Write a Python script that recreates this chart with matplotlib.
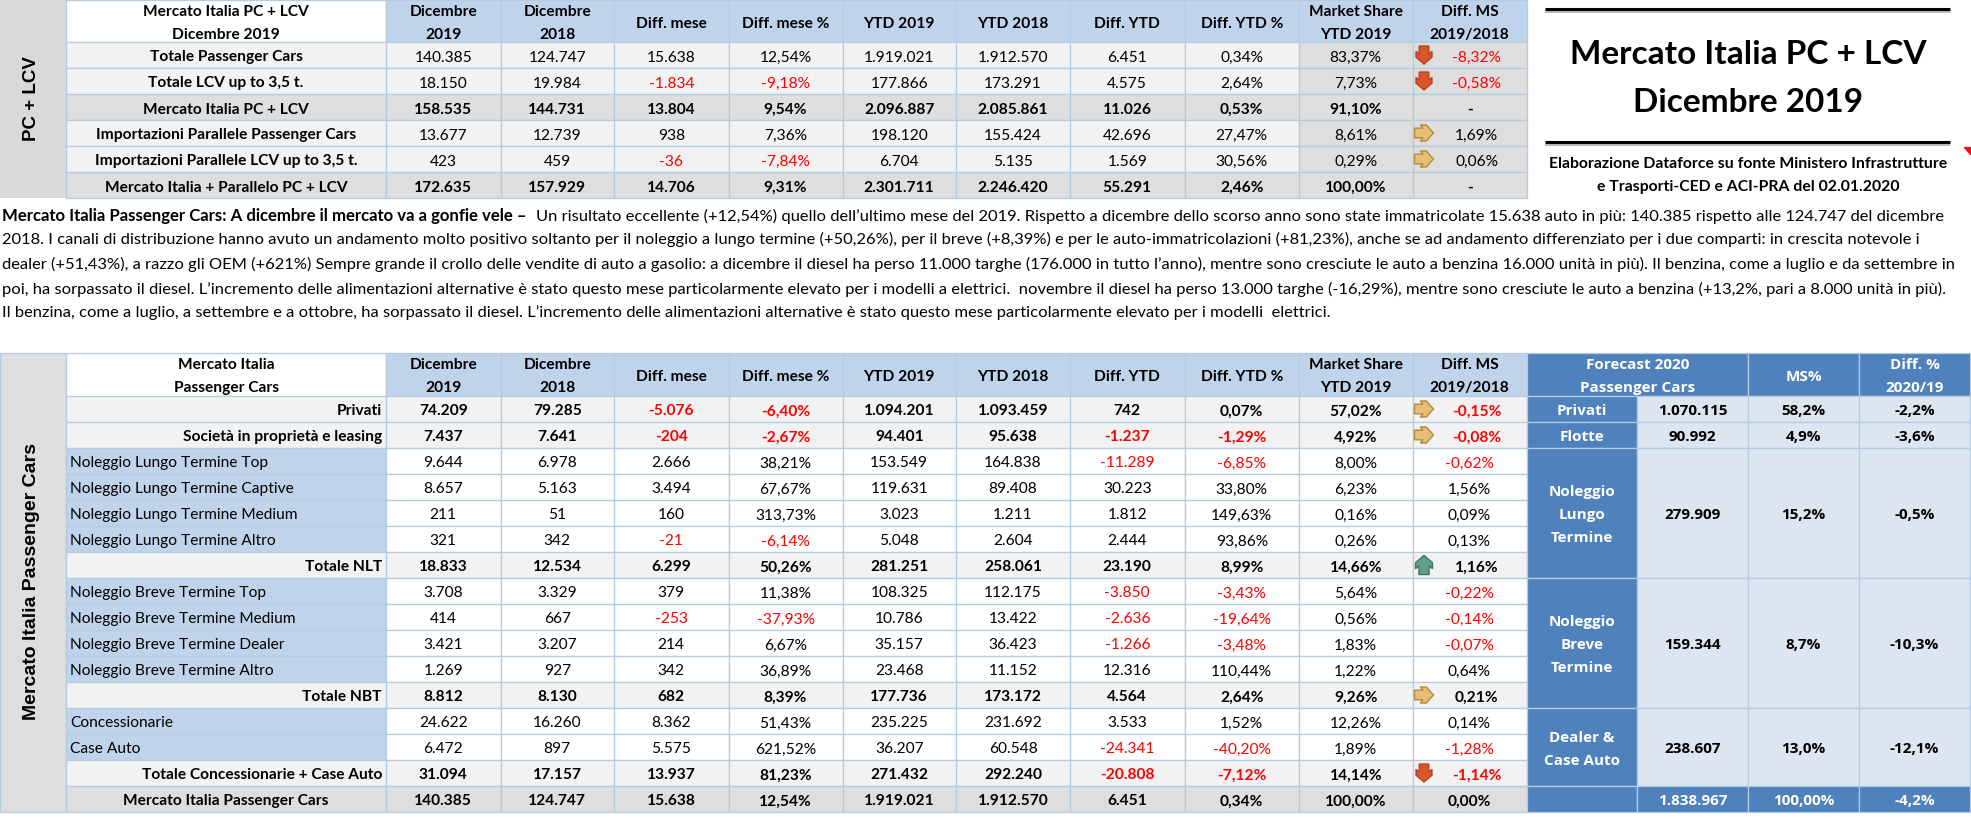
import matplotlib
matplotlib.use("Agg")
import matplotlib.pyplot as plt
from matplotlib.patches import Rectangle

plt.rcParams['font.family'] = ['Lato', 'DejaVu Sans']

# ---- top table data
topLabels = ["Totale Passenger Cars", "Totale LCV up to 3,5 t.", "Mercato Italia PC + LCV",
             "Importazioni Parallele Passenger Cars", "Importazioni Parallele LCV up to 3,5 t.",
             "Mercato Italia + Parallelo PC + LCV"]
topDic19 = ["140.385", "18.150", "158.535", "13.677", "423", "172.635"]
topDic18 = ["124.747", "19.984", "144.731", "12.739", "459", "157.929"]
topDiff = ["15.638", "-1.834", "13.804", "938", "-36", "14.706"]
topDiffPct = ["12,54%", "-9,18%", "9,54%", "7,36%", "-7,84%", "9,31%"]
topYtd19 = ["1.919.021", "177.866", "2.096.887", "198.120", "6.704", "2.301.711"]
topYtd18 = ["1.912.570", "173.291", "2.085.861", "155.424", "5.135", "2.246.420"]
topDiffYtd = ["6.451", "4.575", "11.026", "42.696", "1.569", "55.291"]
topDiffYtdPct = ["0,34%", "2,64%", "0,53%", "27,47%", "30,56%", "2,46%"]
topMs = ["83,37%", "7,73%", "91,10%", "8,61%", "0,29%", "100,00%"]
topDiffMs = ["-8,32%", "-0,58%", "-", "1,69%", "0,06%", "-"]
topArrows = ["down", "down", "", "right", "right", ""]
topBold = [2, 5]

# ---- bottom table data
botLabels = ["Privati", "Società in proprietà e leasing",
             "Noleggio Lungo Termine Top", "Noleggio Lungo Termine Captive",
             "Noleggio Lungo Termine Medium", "Noleggio Lungo Termine Altro", "Totale NLT",
             "Noleggio Breve Termine Top", "Noleggio Breve Termine Medium",
             "Noleggio Breve Termine Dealer", "Noleggio Breve Termine Altro", "Totale NBT",
             "Concessionarie", "Case Auto", "Totale Concessionarie + Case Auto",
             "Mercato Italia Passenger Cars"]
botDic19 = ["74.209", "7.437", "9.644", "8.657", "211", "321", "18.833", "3.708", "414",
            "3.421", "1.269", "8.812", "24.622", "6.472", "31.094", "140.385"]
botDic18 = ["79.285", "7.641", "6.978", "5.163", "51", "342", "12.534", "3.329", "667",
            "3.207", "927", "8.130", "16.260", "897", "17.157", "124.747"]
botDiff = ["-5.076", "-204", "2.666", "3.494", "160", "-21", "6.299", "379", "-253",
           "214", "342", "682", "8.362", "5.575", "13.937", "15.638"]
botDiffPct = ["-6,40%", "-2,67%", "38,21%", "67,67%", "313,73%", "-6,14%", "50,26%", "11,38%",
              "-37,93%", "6,67%", "36,89%", "8,39%", "51,43%", "621,52%", "81,23%", "12,54%"]
botYtd19 = ["1.094.201", "94.401", "153.549", "119.631", "3.023", "5.048", "281.251", "108.325",
            "10.786", "35.157", "23.468", "177.736", "235.225", "36.207", "271.432", "1.919.021"]
botYtd18 = ["1.093.459", "95.638", "164.838", "89.408", "1.211", "2.604", "258.061", "112.175",
            "13.422", "36.423", "11.152", "173.172", "231.692", "60.548", "292.240", "1.912.570"]
botDiffYtd = ["742", "-1.237", "-11.289", "30.223", "1.812", "2.444", "23.190", "-3.850",
              "-2.636", "-1.266", "12.316", "4.564", "3.533", "-24.341", "-20.808", "6.451"]
botDiffYtdPct = ["0,07%", "-1,29%", "-6,85%", "33,80%", "149,63%", "93,86%", "8,99%", "-3,43%",
                 "-19,64%", "-3,48%", "110,44%", "2,64%", "1,52%", "-40,20%", "-7,12%", "0,34%"]
botMs = ["57,02%", "4,92%", "8,00%", "6,23%", "0,16%", "0,26%", "14,66%", "5,64%", "0,56%",
         "1,83%", "1,22%", "9,26%", "12,26%", "1,89%", "14,14%", "100,00%"]
botDiffMs = ["-0,15%", "-0,08%", "-0,62%", "1,56%", "0,09%", "0,13%", "1,16%", "-0,22%", "-0,14%",
             "-0,07%", "0,64%", "0,21%", "0,14%", "-1,28%", "-1,14%", "0,00%"]
botArrows = ["right", "right", "", "", "", "", "up", "", "", "", "", "right", "", "", "down", ""]
botBold = [0, 1, 6, 11, 14, 15]

# ---- forecast table data
fcLabels = ["Privati", "Flotte", "Noleggio\nLungo\nTermine", "Noleggio\nBreve\nTermine", "Dealer &\nCase Auto", ""]
fcValues = ["1.070.115", "90.992", "279.909", "159.344", "238.607", "1.838.967"]
fcMs = ["58,2%", "4,9%", "15,2%", "8,7%", "13,0%", "100,00%"]
fcDiff = ["-2,2%", "-3,6%", "-0,5%", "-10,3%", "-12,1%", "-4,2%"]
fcSpans = [1, 1, 5, 5, 3, 1]

colHeaders = ["Dicembre\n2019", "Dicembre\n2018", "Diff. mese", "Diff. mese %", "YTD 2019", "YTD 2018",
              "Diff. YTD", "Diff. YTD %", "Market Share\nYTD 2019", "Diff. MS\n2019/2018"]

paragraphBold = "Mercato Italia Passenger Cars: A dicembre il mercato va a gonfie vele – "
paragraphLines = [
    "Un risultato eccellente (+12,54%) quello dell’ultimo mese del 2019. Rispetto a dicembre dello scorso anno sono state immatricolate 15.638 auto in più: 140.385 rispetto alle 124.747 del dicembre",
    "2018. I canali di distribuzione hanno avuto un andamento molto positivo soltanto per il noleggio a lungo termine (+50,26%), per il breve (+8,39%) e per le auto-immatricolazioni (+81,23%), anche se ad andamento differenziato per i due comparti: in crescita notevole i",
    "dealer (+51,43%), a razzo gli OEM (+621%) Sempre grande il crollo delle vendite di auto a gasolio: a dicembre il diesel ha perso 11.000 targhe (176.000 in tutto l’anno), mentre sono cresciute le auto a benzina 16.000 unità in più). Il benzina, come a luglio e da settembre in",
    "poi, ha sorpassato il diesel. L’incremento delle alimentazioni alternative è stato questo mese particolarmente elevato per i modelli a elettrici.  novembre il diesel ha perso 13.000 targhe (-16,29%), mentre sono cresciute le auto a benzina (+13,2%, pari a 8.000 unità in più).",
    "Il benzina, come a luglio, a settembre e a ottobre, ha sorpassato il diesel. L’incremento delle alimentazioni alternative è stato questo mese particolarmente elevato per i modelli  elettrici.",
]

# layout
colEdges = [386, 500.5, 614, 728.5, 842.5, 956, 1070, 1184.5, 1299, 1412.5, 1526.5]
labelLeft = 66
rowH = 26
lineH = 23
topTop, topHeadBottom = 1, 43
botTop, botHeadBottom = 354, 397
fcEdges = [1526.5, 1637, 1748, 1859, 1970]

GRID = "#B4CBE4"
HEADBLUE = "#BFD4EA"
LIGHT = "#F2F2F2"
DARK = "#DEDEDE"
FCBLUE = "#4F81BD"
FCLIGHT = "#DCE6F1"
RED = "#FF0000"
FS = 11.2
PARA_FS = 11.85
FCFONT = "Open Sans"

fig = plt.figure(figsize=(19.71, 8.2), dpi=100)
ax = fig.add_axes([0, 0, 1, 1])
ax.set_xlim(0, 1971)
ax.set_ylim(820, 0)
ax.axis("off")


def cell(x0, y0, x1, y1, color):
    ax.add_patch(Rectangle((x0, y0), x1 - x0, y1 - y0, facecolor=color, edgecolor=GRID, linewidth=0.9))


def put(x, y, s, ha="center", bold=False, color="black", size=FS, **kw):
    # one text per line, excel rows keep a fixed pitch
    lines = s.split("\n")
    start = y - lineH * (len(lines) - 1) / 2
    for k, line in enumerate(lines):
        ax.text(x, start + k * lineH, line, ha=ha, va="center_baseline", color=color, fontsize=size,
                fontweight="bold" if bold else "normal", **kw)


def arrow(kind, cx, cy):
    # block arrow outline, pointing down by default
    shape = [(-.3, -.5), (.3, -.5), (.3, -.05), (.5, -.2), (.5, .12), (0, .5), (-.5, .12), (-.5, -.2), (-.3, -.05)]
    if kind == "down":
        pts = [(cx + 16 * a, cy + 18 * b) for a, b in shape]
        face, edge = "#D9552C", "#B5431F"
    elif kind == "up":
        pts = [(cx + 17 * a, cy - 19 * b) for a, b in shape]
        face, edge = "#5F9E87", "#3E7763"
    else:
        pts = [(cx + 19 * b, cy + 16 * a) for a, b in shape]
        face, edge = "#E8BD75", "#B08B3F"
    ax.fill([p[0] for p in pts], [p[1] for p in pts], facecolor=face, edgecolor=edge, linewidth=1)


def headers(yTop, yBottom, title):
    cell(labelLeft, yTop, colEdges[0], yBottom, "white")
    put((labelLeft + colEdges[0]) / 2, (yTop + yBottom) / 2, title, bold=True)
    for i, h in enumerate(colHeaders):
        cell(colEdges[i], yTop, colEdges[i + 1], yBottom, HEADBLUE)
        put((colEdges[i] + colEdges[i + 1]) / 2, (yTop + yBottom) / 2, h, bold=True)


def valueRow(y, columns, r, bold, fill, arrows):
    cy = y + rowH / 2
    for i, col in enumerate(columns):
        c = fill[i] if isinstance(fill, list) else fill
        cell(colEdges[i], y, colEdges[i + 1], y + rowH, c)
        s = col[r]
        tx = (colEdges[i] + colEdges[i + 1]) / 2
        if i == len(columns) - 1 and arrows[r]:
            tx += 7
            arrow(arrows[r], 1424, cy)
        put(tx, cy, s, bold=bold, color=RED if s.startswith("-") and len(s) > 1 else "black")


# left side bands
ax.add_patch(Rectangle((0, topTop), labelLeft, 198, facecolor="#D9D9D9", edgecolor="none"))
ax.add_patch(Rectangle((0, botTop), labelLeft, botHeadBottom - botTop + 16 * rowH, facecolor=DARK, edgecolor=GRID, linewidth=0.9))
ax.text(32, 99, "PC + LCV", rotation=90, ha="center", va="center", fontsize=13.5, family="Liberation Sans", fontweight="bold")
ax.text(32, 582, "Mercato Italia Passenger Cars", rotation=90, ha="center", va="center", fontsize=14, family="Liberation Sans", fontweight="bold")

# top table
headers(topTop, topHeadBottom, "Mercato Italia PC + LCV\nDicembre 2019")
topCols = [topDic19, topDic18, topDiff, topDiffPct, topYtd19, topYtd18, topDiffYtd, topDiffYtdPct, topMs, topDiffMs]
for r, lab in enumerate(topLabels):
    y = topHeadBottom + r * rowH
    bold = r in topBold
    base = DARK if bold else LIGHT
    cell(labelLeft, y, colEdges[0], y + rowH, base)
    put((labelLeft + colEdges[0]) / 2, y + rowH / 2, lab, bold=True)
    valueRow(y, topCols, r, bold, [base] * 8 + [DARK, DARK], topArrows)

# bottom table
headers(botTop, botHeadBottom, "Mercato Italia\nPassenger Cars")
botCols = [botDic19, botDic18, botDiff, botDiffPct, botYtd19, botYtd18, botDiffYtd, botDiffYtdPct, botMs, botDiffMs]
for r, lab in enumerate(botLabels):
    y = botHeadBottom + r * rowH
    bold = r in botBold
    base = DARK if r == 15 else (LIGHT if bold else "white")
    cell(labelLeft, y, colEdges[0], y + rowH, base if bold else HEADBLUE)
    if r == 15:
        put((labelLeft + colEdges[0]) / 2, y + rowH / 2, lab, bold=True)
    elif bold:
        put(colEdges[0] - 4, y + rowH / 2, lab, ha="right", bold=True)
    else:
        put(labelLeft + 4, y + rowH / 2, lab, ha="left")
    valueRow(y, botCols, r, bold, base, botArrows)

# forecast table
cell(fcEdges[0], botTop, fcEdges[2], botHeadBottom, FCBLUE)
cell(fcEdges[2], botTop, fcEdges[3], botHeadBottom, FCBLUE)
cell(fcEdges[3], botTop, fcEdges[4], botHeadBottom, FCBLUE)
put((fcEdges[0] + fcEdges[2]) / 2, (botTop + botHeadBottom) / 2, "Forecast 2020\nPassenger Cars", bold=True, color="white", family=FCFONT, size=11)
put((fcEdges[2] + fcEdges[3]) / 2, (botTop + botHeadBottom) / 2, "MS%", bold=True, color="white", family=FCFONT, size=11)
put((fcEdges[3] + fcEdges[4]) / 2, (botTop + botHeadBottom) / 2, "Diff. %\n2020/19", bold=True, color="white", family=FCFONT, size=11)
y = botHeadBottom
for r, span in enumerate(fcSpans):
    y1 = y + span * rowH
    last = r == len(fcSpans) - 1
    cy = (y + y1) / 2
    cell(fcEdges[0], y, fcEdges[1], y1, FCBLUE)
    put((fcEdges[0] + fcEdges[1]) / 2, cy, fcLabels[r], bold=True, color="white", family=FCFONT, size=11)
    for i, col in enumerate([fcValues, fcMs, fcDiff]):
        cell(fcEdges[i + 1], y, fcEdges[i + 2], y1, FCBLUE if last else FCLIGHT)
        put((fcEdges[i + 1] + fcEdges[i + 2]) / 2, cy, col[r], bold=True, color="white" if last else "black", family=FCFONT, size=11)
    y = y1

# paragraph
paraY = [215, 238, 263, 288, 311]
paraX = [536, 2, 2, 2, 2]
ax.text(2, paraY[0], paragraphBold, ha="left", va="center_baseline", fontsize=12.1, fontweight="bold")
for s, x, y in zip(paragraphLines, paraX, paraY):
    ax.text(x, y, s, ha="left", va="center_baseline", fontsize=PARA_FS)

# title box
for ly in [10, 143]:
    ax.plot([1545, 1950], [ly + 2.5, ly + 2.5], color="#BBBBBB", lw=1.5, solid_capstyle="butt")
    ax.plot([1545, 1950], [ly, ly], color="black", lw=2.2, solid_capstyle="butt")
ax.text(1748, 52, "Mercato Italia PC + LCV", ha="center", va="center_baseline", fontsize=24, fontweight="bold")
ax.text(1748, 100, "Dicembre 2019", ha="center", va="center_baseline", fontsize=24, fontweight="bold")
ax.text(1748, 162, "Elaborazione Dataforce su fonte Ministero Infrastrutture", ha="center", va="center_baseline", fontsize=11.3, fontweight="bold")
ax.text(1748, 185, "e Trasporti-CED e ACI-PRA del 02.01.2020", ha="center", va="center_baseline", fontsize=11.3, fontweight="bold")
ax.fill([1964, 1970, 1970], [148, 148, 155], color="#E8141C")

fig.savefig("out.png", dpi=100)
